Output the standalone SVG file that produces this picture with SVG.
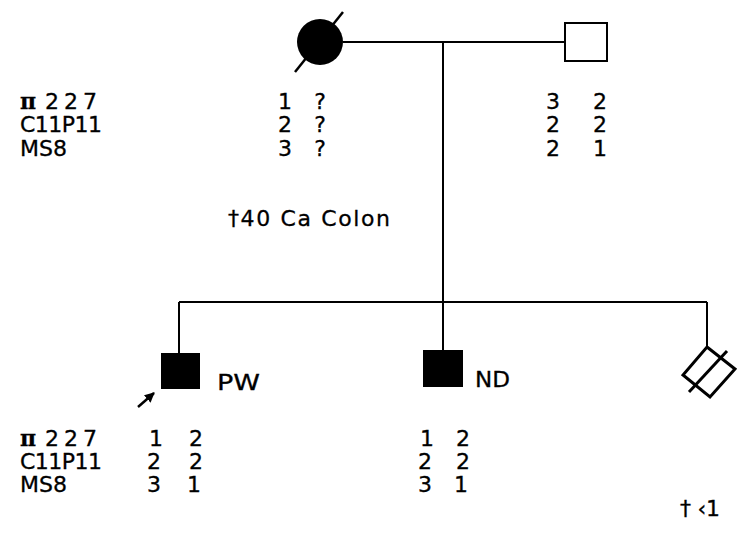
<svg xmlns="http://www.w3.org/2000/svg" width="740" height="550" viewBox="0 0 740 550">
<style>
text{font-family:"DejaVu Sans","Liberation Sans",sans-serif;font-size:22px;fill:#000;stroke:#000;stroke-width:0.3}
.al{text-anchor:middle}
.pi{font-family:"DejaVu Serif","Liberation Serif",serif;font-weight:bold}
.ln{stroke:#000;stroke-width:2;fill:none}
</style>
<defs>
<marker id="ah" viewBox="0 0 10 10" refX="9" refY="5" markerWidth="4" markerHeight="4" orient="auto"><path d="M0,0 L10,5 L0,10 z" fill="#000"/></marker>
</defs>
<rect width="740" height="550" fill="#fff"/>
<g id="connectors" class="ln">
<line x1="343" y1="42" x2="565" y2="42"/>
<line x1="443" y1="42" x2="443" y2="302"/>
<line x1="179" y1="302" x2="707" y2="302"/>
<line x1="179" y1="302" x2="179" y2="353"/>
<line x1="443" y1="302" x2="443" y2="350"/>
<line x1="707" y1="302" x2="707" y2="347"/>
</g>
<g id="mother">
<circle cx="320" cy="42" r="23" fill="#000"/>
<line x1="295" y1="72" x2="343" y2="12" stroke="#000" stroke-width="2.5"/>
</g>
<g id="father">
<rect x="565" y="23" width="42" height="38" fill="#fff" stroke="#000" stroke-width="2"/>
</g>
<g id="pw">
<rect x="161" y="353" width="39" height="36" fill="#000"/>
<text x="217" y="390" textLength="43" lengthAdjust="spacingAndGlyphs">PW</text>
<line x1="138" y1="407" x2="154" y2="393" stroke="#000" stroke-width="2.5" marker-end="url(#ah)"/>
</g>
<g id="nd">
<rect x="423" y="350" width="40" height="37" fill="#000"/>
<text x="475" y="387" textLength="35" lengthAdjust="spacingAndGlyphs">ND</text>
</g>
<g id="sib3">
<polygon points="707,347 735,369 710,397 683,375" fill="#fff" stroke="#000" stroke-width="3"/>
<line x1="727" y1="351" x2="689" y2="392" stroke="#000" stroke-width="3"/>
</g>
<g id="top-labels">
<text x="20" y="109" class="pi">π</text><text x="45" y="109" textLength="52" lengthAdjust="spacing">227</text>
<text x="20" y="132" textLength="82" lengthAdjust="spacing">C11P11</text>
<text x="20" y="156">MS8</text>
<text x="285" y="109" class="al">1</text><text x="320" y="109" class="al">?</text>
<text x="285" y="132" class="al">2</text><text x="320" y="132" class="al">?</text>
<text x="285" y="156" class="al">3</text><text x="320" y="156" class="al">?</text>
<text x="553" y="109" class="al">3</text><text x="600" y="109" class="al">2</text>
<text x="553" y="132" class="al">2</text><text x="600" y="132" class="al">2</text>
<text x="553" y="156" class="al">2</text><text x="600" y="156" class="al">1</text>
<text x="228" y="226" textLength="162" lengthAdjust="spacing">†40 Ca Colon</text>
</g>
<g id="bottom-labels">
<text x="20" y="446" class="pi">π</text><text x="45" y="446" textLength="52" lengthAdjust="spacing">227</text>
<text x="20" y="469" textLength="82" lengthAdjust="spacing">C11P11</text>
<text x="20" y="492">MS8</text>
<text x="156" y="446" class="al">1</text><text x="196" y="446" class="al">2</text>
<text x="154" y="469" class="al">2</text><text x="196" y="469" class="al">2</text>
<text x="154" y="492" class="al">3</text><text x="194" y="492" class="al">1</text>
<text x="427" y="446" class="al">1</text><text x="463" y="446" class="al">2</text>
<text x="425" y="469" class="al">2</text><text x="463" y="469" class="al">2</text>
<text x="425" y="492" class="al">3</text><text x="461" y="492" class="al">1</text>
<text x="680" y="516" textLength="40" lengthAdjust="spacing">† ‹1</text>
</g>
</svg>
